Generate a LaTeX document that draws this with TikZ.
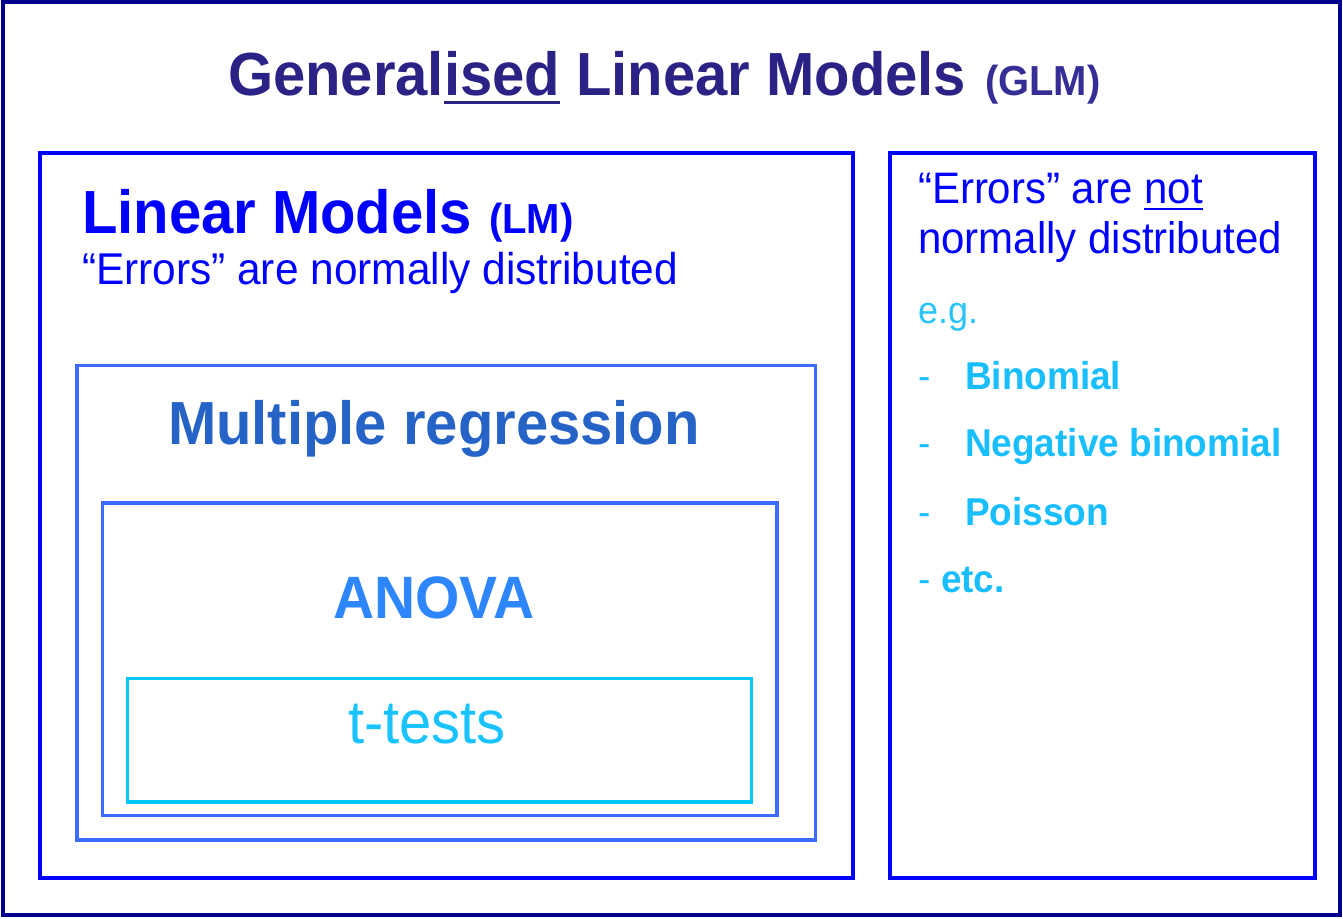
\documentclass[tikz,border=0pt]{standalone}
\usepackage{fontspec}
\usepackage{graphicx}
\setmainfont{Liberation Sans}
\definecolor{outerc}{RGB}{0,0,140}
\definecolor{titlec}{RGB}{42,34,132}
\definecolor{glmc}{RGB}{52,46,150}
\definecolor{lmc}{RGB}{0,0,255}
\definecolor{mrbox}{RGB}{61,107,255}
\definecolor{mrtext}{RGB}{37,99,198}
\definecolor{anovatext}{RGB}{46,134,255}
\definecolor{tbox}{RGB}{0,200,255}
\definecolor{ttext}{RGB}{25,195,255}
\definecolor{listc}{RGB}{25,190,255}
\definecolor{egc}{RGB}{40,195,250}
\newlength\ulwidth
\newcommand\ulword[3]{\settowidth\ulwidth{#1}\rlap{\rule[-#2]{\ulwidth}{#3}}#1}
\newcommand\fsz[1]{\fontsize{#1bp}{#1bp}\selectfont}
\newcommand\tall[1]{\scalebox{1}[1.05]{#1}}
\begin{document}
\begin{tikzpicture}[x=1bp,y=-1bp,
  box/.style={draw, rectangle, inner sep=0pt, outer sep=0pt},
  lt/.style={inner sep=0pt, outer sep=0pt, anchor=base west},
  ct/.style={inner sep=0pt, outer sep=0pt, anchor=base}]
\useasboundingbox (0,0) rectangle (1343,918);
% boxes
\node[box, draw=outerc, line width=4bp, minimum width=1336.5bp, minimum height=912bp] (outer) at (671.75,458.5) {};
\node[box, draw=lmc, line width=4bp, minimum width=812bp, minimum height=725bp] (lm) at (446.5,515.5) {};
\node[box, draw=lmc, line width=4bp, minimum width=424.5bp, minimum height=724.5bp] (nonnormal) at (1102.25,515.75) {};
\node[box, draw=mrbox, line width=3.5bp, minimum width=738.5bp, minimum height=474.5bp] (mr) at (446.25,602.75) {};
\node[box, draw=mrbox, line width=3.5bp, minimum width=674.5bp, minimum height=312.5bp] (anova) at (439.75,659.25) {};
\node[box, draw=tbox, line width=3.5bp, minimum width=624bp, minimum height=123.5bp] (ttest) at (439.5,740.25) {};
% title
\node[lt, text=titlec] (title) at (228,95) {\tall{\fsz{58}\bfseries General\ulword{ised}{8.3bp}{3bp} Linear Models}};
\node[lt, text=glmc] (glm) at (985,95) {\tall{\fsz{40}\bfseries (GLM)}};
% LM
\node[lt, text=lmc] (lmtitle) at (82,233) {\tall{\fsz{58}\bfseries Linear Models}};
\node[lt, text=lmc] (lmabbr) at (489,233) {\tall{\fsz{40}\bfseries (LM)}};
\node[lt, text=lmc] (lmerr) at (82,284) {\tall{\fsz{42.4}“Errors” are normally distributed}};
% right box
\node[lt, text=lmc] (nn1) at (918,203) {\tall{\fsz{42}“Errors” are \ulword{not}{7bp}{2.5bp}}};
\node[lt, text=lmc] (nn2) at (918,253) {\tall{\fsz{42}normally distributed}};
\node[lt, text=egc] (eg) at (918,323) {\tall{\fsz{36}e.g.}};
\node[lt, text=listc] (d1) at (918,389) {\tall{\fsz{37}-}};
\node[lt, text=listc] (binom) at (965,389) {\tall{\fsz{37}\bfseries Binomial}};
\node[lt, text=listc] (d2) at (918,456) {\tall{\fsz{37}-}};
\node[lt, text=listc] (negbin) at (965,456) {\tall{\fsz{37}\bfseries Negative binomial}};
\node[lt, text=listc] (d3) at (918,525) {\tall{\fsz{37}-}};
\node[lt, text=listc] (pois) at (965,525) {\tall{\fsz{37}\bfseries Poisson}};
\node[lt, text=listc] (d4) at (918,592) {\tall{\fsz{37}-}};
\node[lt, text=listc] (etc) at (941,592) {\tall{\fsz{37}\bfseries etc.}};
% inner
\node[ct, text=mrtext] (mrlabel) at (434,444) {\tall{\fsz{58}\bfseries Multiple regression}};
\node[ct, text=anovatext] (anovalabel) at (434,618) {\tall{\fsz{57}\bfseries ANOVA}};
\node[ct, text=ttext] (tlabel) at (427,743) {\tall{\fsz{58}t-tests}};
\end{tikzpicture}
\end{document}
